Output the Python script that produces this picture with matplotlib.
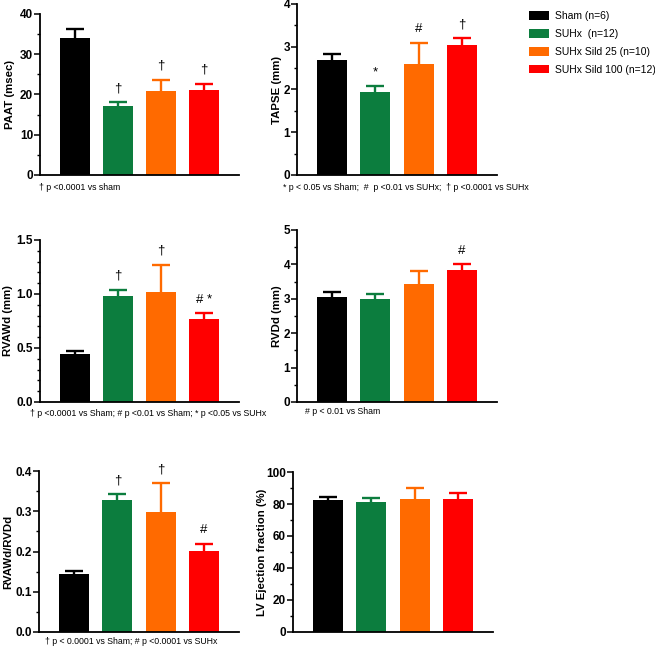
import matplotlib
matplotlib.use("Agg")
import matplotlib.pyplot as plt
from matplotlib.patches import Patch
from matplotlib.ticker import MultipleLocator

plt.rcParams['font.family'] = ['Liberation Sans', 'DejaVu Sans']

W, H = 655, 647
groups = ["Sham (n=6)", "SUHx  (n=12)", "SUHx Sild 25 (n=10)", "SUHx Sild 100 (n=12)"]
colors = ["#000000", "#0C7D3E", "#FF6A00", "#FF0000"]

paat = [34.0, 17.2, 20.8, 21.2]
paat_err = [2.3, 0.9, 2.9, 1.5]
paat_sig = ["", "†", "†", "†"]

tapse = [2.68, 1.93, 2.60, 3.05]
tapse_err = [0.15, 0.15, 0.48, 0.15]
tapse_sig = ["", "*", "#", "†"]

rvawd = [0.44, 0.98, 1.02, 0.77]
rvawd_err = [0.03, 0.06, 0.25, 0.05]
rvawd_sig = ["", "†", "†", "# *"]

rvdd = [3.05, 3.00, 3.43, 3.83]
rvdd_err = [0.15, 0.13, 0.37, 0.17]
rvdd_sig = ["", "", "", "#"]

ratio = [0.143, 0.327, 0.298, 0.201]
ratio_err = [0.008, 0.016, 0.071, 0.017]
ratio_sig = ["", "†", "†", "#"]

lvef = [82.5, 81.0, 83.2, 83.0]
lvef_err = [1.8, 3.0, 6.5, 3.8]
lvef_sig = ["", "", "", ""]

panels = [
    dict(v=paat, e=paat_err, s=paat_sig, ylabel="PAAT (msec)", ylim=40, major=10, minor=5, fmt="{:.0f}",
         box=(40, 239, 14, 175), ylx=10,
         note="† p <0.0001 vs sham", nx=39, ny=187),
    dict(v=tapse, e=tapse_err, s=tapse_sig, ylabel="TAPSE (mm)", ylim=4, major=1, minor=0.5, fmt="{:.0f}",
         box=(297, 497, 4, 175), ylx=277,
         note="* p < 0.05 vs Sham;  #  p <0.01 vs SUHx;  † p <0.0001 vs SUHx", nx=283, ny=187),
    dict(v=rvawd, e=rvawd_err, s=rvawd_sig, ylabel="RVAWd (mm)", ylim=1.5, major=0.5, minor=0.1, fmt="{:.1f}",
         box=(40, 239, 240, 402), ylx=8,
         note="† p <0.0001 vs Sham; # p <0.01 vs Sham; * p <0.05 vs SUHx", nx=30, ny=414),
    dict(v=rvdd, e=rvdd_err, s=rvdd_sig, ylabel="RVDd (mm)", ylim=5, major=1, minor=0.5, fmt="{:.0f}",
         box=(297, 497, 230, 402), ylx=277,
         note="# p < 0.01 vs Sham", nx=305, ny=412),
    dict(v=ratio, e=ratio_err, s=ratio_sig, ylabel="RVAWd/RVDd", ylim=0.4, major=0.1, minor=0.05, fmt="{:.1f}",
         box=(39, 239, 471, 632), ylx=8,
         note="† p < 0.0001 vs Sham; # p <0.0001 vs SUHx", nx=45, ny=641),
    dict(v=lvef, e=lvef_err, s=lvef_sig, ylabel="LV Ejection fraction (%)", ylim=100, major=20, minor=10, fmt="{:.0f}",
         box=(293, 493, 472, 632), ylx=262,
         note="", nx=0, ny=0),
]

fig = plt.figure(figsize=(W / 100, H / 100), dpi=100)
xs = [0, 1, 2, 3]

for p in panels:
    x0, x1, yt, yb = p["box"]
    ax = fig.add_axes([x0 / W, 1 - yb / H, (x1 - x0) / W, (yb - yt) / H])
    unit = (x1 - x0 - 40 - 30) / 3.0  # px per category step
    wid = 30 / unit
    capw = 9 / unit
    ax.bar(xs, p["v"], width=wid, color=colors, edgecolor="none", zorder=2)
    for x, v, e, c, s in zip(xs, p["v"], p["e"], colors, p["s"]):
        ax.vlines(x, v, v + e, colors=c, linewidth=1.7, zorder=1)
        ax.hlines(v + e, x - capw, x + capw, colors=c, linewidth=1.7, zorder=1)
        if s:
            ax.annotate(s, xy=(x, v + e), xytext=(0, 10), textcoords="offset points",
                        ha="center", va="center", fontsize=9.5)
    ax.set_xlim(-(15 + 20) / unit, 3 + (15 + 20) / unit)
    ax.set_ylim(0, p["ylim"])
    ax.yaxis.set_major_locator(MultipleLocator(p["major"]))
    ax.yaxis.set_minor_locator(MultipleLocator(p["minor"]))
    ax.set_yticklabels([p["fmt"].format(t) for t in ax.get_yticks()])
    for lab in ax.get_yticklabels():
        lab.set_fontweight("bold")
    ax.tick_params(axis="y", which="major", labelsize=8.5, length=4, width=1.1, pad=1)
    ax.tick_params(axis="y", which="minor", length=2.5, width=1.0)
    ax.set_xticks([])
    for sp in ["top", "right"]:
        ax.spines[sp].set_visible(False)
    for sp in ["left", "bottom"]:
        ax.spines[sp].set_linewidth(1.3)
    fig.text(p["ylx"] / W, 1 - (yt + yb) / 2 / H, p["ylabel"], rotation=90, ha="center", va="center",
             fontsize=8.2, fontweight="bold")
    if p["note"]:
        fig.text(p["nx"] / W, 1 - p["ny"] / H, p["note"], ha="left", va="center", fontsize=6.3)

handles = [Patch(facecolor=c, edgecolor="none") for c in colors]
fig.legend(handles, groups, loc="upper left", bbox_to_anchor=(522 / W, 1 - 4 / H), frameon=False,
           fontsize=7.5, handlelength=1.9, handleheight=0.9, labelspacing=0.75, handletextpad=0.6,
           borderpad=0.2)

fig.savefig("out.png", dpi=100)
